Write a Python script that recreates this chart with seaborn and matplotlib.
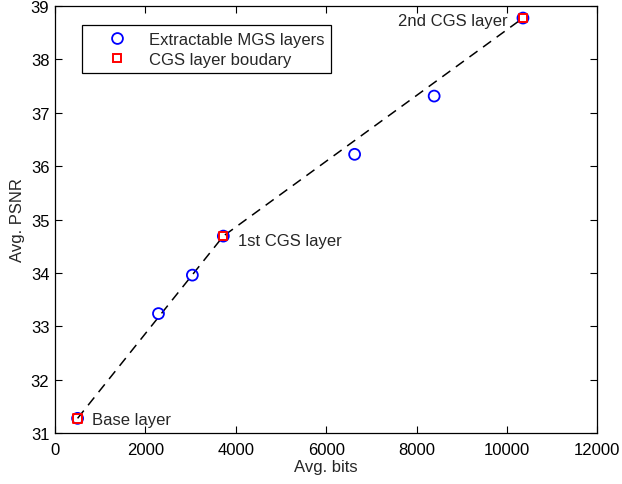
import matplotlib
matplotlib.use("Agg")
import matplotlib.pyplot as plt
import seaborn as sns
import pandas as pd
from matplotlib.lines import Line2D

# data
mgs_bits = [500, 2290, 3040, 3725, 6630, 8390, 10355]
mgs_psnr = [31.28, 33.24, 33.96, 34.69, 36.22, 37.31, 38.77]
cgs_bits = [500, 3725, 10355]
cgs_psnr = [31.28, 34.69, 38.77]
cgs_labels = ["Base layer", "1st CGS layer", "2nd CGS layer"]
xticks = [0, 2000, 4000, 6000, 8000, 10000, 12000]
yticks = [31, 32, 33, 34, 35, 36, 37, 38, 39]

sns.set_theme(style="white")
plt.rcParams['font.family'] = ['Liberation Sans', 'DejaVu Sans']
FS = 12

fig = plt.figure(figsize=(6.22, 4.85), dpi=100)
ax = fig.add_axes([0.0884, 0.1045, 0.8719, 0.8816])

cgs_df = pd.DataFrame({"bits": cgs_bits, "psnr": cgs_psnr})
mgs_df = pd.DataFrame({"bits": mgs_bits, "psnr": mgs_psnr})

sns.lineplot(data=cgs_df, x="bits", y="psnr", ax=ax, color="black",
             linewidth=1.1, dashes=False, linestyle=(0, (6.5, 4.5)), sort=False)
sns.scatterplot(data=mgs_df, x="bits", y="psnr", ax=ax, marker="o", s=62,
                facecolors="none", edgecolors="blue", linewidth=1.3, zorder=3)
sns.scatterplot(data=cgs_df, x="bits", y="psnr", ax=ax, marker="s", s=36,
                facecolors="none", edgecolors="red", linewidth=1.4, zorder=4)

ax.text(cgs_bits[0] + 330, cgs_psnr[0] - 0.03, cgs_labels[0], fontsize=FS,
        va="center", ha="left")
ax.text(cgs_bits[1] + 330, cgs_psnr[1] - 0.08, cgs_labels[1], fontsize=FS,
        va="center", ha="left")
ax.text(cgs_bits[2] - 330, cgs_psnr[2] - 0.05, cgs_labels[2], fontsize=FS,
        va="center", ha="right")

ax.set_xlim(0, 12000)
ax.set_ylim(31, 39)
ax.set_xticks(xticks)
ax.set_yticks(yticks)
ax.set_xticklabels([str(t) for t in xticks])
ax.set_yticklabels([str(t) for t in yticks])
ax.tick_params(direction="in", length=5, width=0.8, labelsize=FS,
               top=True, right=True, bottom=True, left=True, colors="black")
ax.tick_params(axis="x", pad=6)
ax.tick_params(axis="y", pad=4)
for s in ax.spines.values():
    s.set_visible(True)
    s.set_color("black")
    s.set_linewidth(0.9)

ax.set_xlabel("Avg. bits", fontsize=FS, labelpad=2)
ax.set_ylabel("Avg. PSNR", fontsize=FS, labelpad=4)

handles = [
    Line2D([], [], linestyle="none", marker="o", markersize=7.8,
           markerfacecolor="none", markeredgecolor="blue", markeredgewidth=1.3),
    Line2D([], [], linestyle="none", marker="s", markersize=6,
           markerfacecolor="none", markeredgecolor="red", markeredgewidth=1.4),
]
leg = ax.legend(handles, ["Extractable MGS layers", "CGS layer boudary"],
                loc="upper left", bbox_to_anchor=(0.0498, 0.955),
                fontsize=FS, frameon=True, fancybox=False, framealpha=1,
                edgecolor="black", borderpad=0.4, handletextpad=0.15,
                handlelength=3.45, labelspacing=0.3, borderaxespad=0)
leg.get_frame().set_linewidth(0.9)

fig.savefig("out.png", dpi=100)
